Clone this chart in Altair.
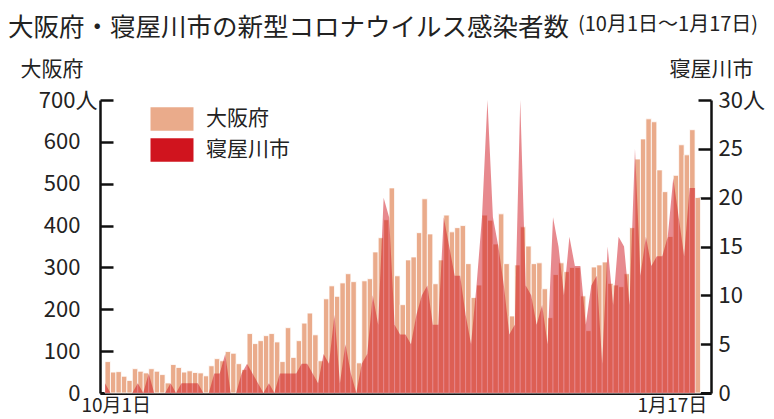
import altair as alt
import pandas as pd

FONT = "Noto Sans CJK JP"

title_main = "大阪府・寝屋川市の新型コロナウイルス感染者数"
title_sub = "(10月1日～1月17日)"
series_names = ["大阪府", "寝屋川市"]
left_ticks = [0, 100, 200, 300, 400, 500, 600, 700]
right_ticks = [0, 5, 10, 15, 20, 25, 30]
x_tick_labels = ["10月1日", "", "1月17日"]

# daily new cases, Oct 1 .. Jan 17
osaka = [75, 50, 51, 40, 30, 58, 52, 48, 58, 52,
         44, 24, 68, 61, 50, 53, 49, 48, 41, 65,
         82, 77, 99, 95, 70, 56, 142, 118, 125, 137,
         142, 122, 75, 156, 85, 125, 167, 191, 139, 77,
         225, 256, 231, 263, 285, 266, 72, 268, 273, 337,
         371, 414, 490, 280, 211, 318, 325, 383, 464, 380,
         261, 318, 425, 385, 395, 400, 309, 228, 258, 425,
         413, 356, 428, 309, 184, 306, 397, 351, 309, 311,
         249, 180, 283, 311, 290, 300, 300, 232, 149, 301,
         306, 313, 262, 258, 254, 285, 395, 559, 607, 655,
         648, 533, 481, 374, 520, 593, 569, 629, 467]
neyagawa = [1, 0, 0, 0, 0, 0, 1, 0, 2, 0,
            0, 0, 1, 0, 1, 1, 1, 1, 0, 0,
            2, 2, 4, 0, 0, 2, 3, 2, 1, 0,
            1, 0, 2, 2, 2, 2, 3, 3, 2, 1,
            4, 3, 8, 1, 5, 2, 0, 3, 4, 10,
            7, 20, 18, 7, 6, 6, 5, 8, 10, 11,
            7, 7, 18, 15, 12, 12, 8, 5, 11, 18,
            30, 18, 15, 11, 6, 7, 30, 11, 10, 7,
            9, 5, 18, 15, 10, 16, 13, 13, 7, 11,
            12, 3, 15, 9, 16, 15, 9, 25, 12, 16,
            13, 14, 14, 16, 22, 18, 14, 21, 21]

n = len(osaka)
df = pd.DataFrame({"i": list(range(n)), "osaka": osaka, "neya": neyagawa})
df["i1"] = df["i"] + 1
df["s1"] = series_names[0]
df["s2"] = series_names[1]

x_tick_pos = [0.5, 73.5, 106.5]

x_scale = alt.Scale(domain=[0, 110], nice=False, zero=False)
color_scale = alt.Scale(domain=series_names, range=["#EAAB8B", "#D0141E"])

x_axis = alt.Axis(
    values=x_tick_pos,
    labelExpr=f"datum.value < 1 ? '{x_tick_labels[0]}' : (datum.value > 100 ? '{x_tick_labels[2]}' : '')",
    title=None, grid=False,
    domainColor="#111", domainWidth=3,
    tickColor="#111", tickWidth=2.5, tickSize=alt.ExprRef(expr="-11"),
    labelPadding=14, labelFontSize=19, labelFont=FONT, labelColor="#222",
    labelFlush=False, labelAlign="center", labelBaseline="top",
    labelOffset={"condition": {"test": "datum.value < 1", "value": 8}, "value": -15},
)

left_axis = alt.Axis(
    values=left_ticks,
    labelExpr="datum.value == 700 ? '700人' : datum.label",
    title=series_names[0], titleAngle=0, titleX=-80, titleY=-21,
    titleAlign="left", titleBaseline="bottom",
    titleFontSize=21, titleFont=FONT, titleFontWeight="normal", titleColor="#222",
    labelFontSize=22, labelFont=FONT, labelColor="#222",
    domainColor="#111", domainWidth=2.5,
    tickColor="#111", tickWidth=2.5, tickSize=alt.ExprRef(expr="-13"),
    labelPadding={"condition": {"test": "datum.value == 700", "value": 16}, "value": 33},
    grid=False,
)

right_axis = alt.Axis(
    orient="right",
    values=right_ticks,
    labelExpr="datum.value == 30 ? '30人' : datum.label",
    title=series_names[1], titleAngle=0, titleX=0, titleY=-21,
    titleAlign="center", titleBaseline="bottom",
    titleFontSize=21, titleFont=FONT, titleFontWeight="normal", titleColor="#222",
    labelFontSize=22, labelFont=FONT, labelColor="#222",
    domainColor="#111", domainWidth=2.5,
    tickColor="#111", tickWidth=2.5, tickSize=alt.ExprRef(expr="-13"),
    labelPadding=20, grid=False,
)

legend = alt.Legend(
    title=None, orient="none", legendX=61, legendY=8,
    symbolType="M-2,-1.1H2V1.1H-2Z", symbolSize=462,
    symbolOpacity=1, symbolStrokeWidth=0,
    labelFontSize=21, labelFont=FONT, labelColor="#222", labelOffset=23,
    rowPadding=7,
)

bars = alt.Chart(df).mark_bar(stroke="white", strokeWidth=0.8, orient="vertical").encode(
    x=alt.X("i:Q", scale=x_scale, axis=x_axis),
    x2="i1:Q",
    y=alt.Y("osaka:Q", scale=alt.Scale(domain=[0, 700], nice=False), axis=left_axis),
    y2=alt.datum(0),
    color=alt.Color("s1:N", scale=color_scale, legend=legend),
)

area = alt.Chart(df).mark_area(opacity=0.5, interpolate="linear").encode(
    x=alt.X("i:Q", scale=x_scale, axis=x_axis),
    y=alt.Y("neya:Q", scale=alt.Scale(domain=[0, 30], nice=False), axis=right_axis),
    color=alt.Color("s2:N", scale=color_scale, legend=legend),
)

sub = alt.Chart(pd.DataFrame({"t": [title_sub]})).mark_text(
    align="left", baseline="alphabetic", fontSize=20, font=FONT, color="#222"
).encode(text="t:N", x=alt.value(478), y=alt.value(-69))

chart = alt.layer(bars, area, sub).resolve_scale(y="independent").properties(
    width=611, height=293,
    autosize=alt.AutoSizeParams(type="none"),
    padding={"left": 92, "top": 92, "right": 55, "bottom": 26},
    title=alt.Title(title_main, anchor="start", frame="group", dx=-92, dy=26, offset=0,
                    fontSize=25.5, font=FONT, fontWeight="normal", color="#222"),
).configure_view(stroke=None)

chart.save("out.html", embed_options={"renderer": "svg", "actions": False})
